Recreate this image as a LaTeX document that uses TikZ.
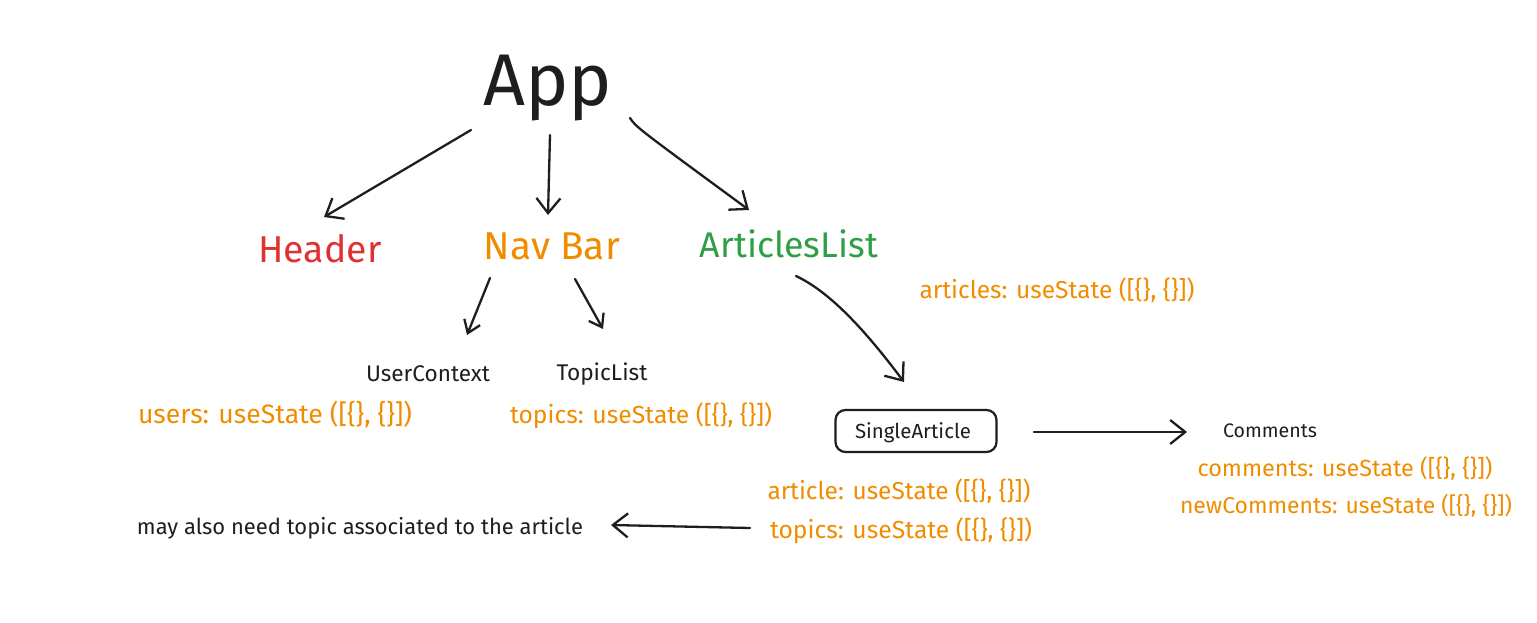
\documentclass[tikz,border=0pt]{standalone}
\usepackage{fontspec}
\setmainfont{Fira Sans}
\usetikzlibrary{arrows.meta}
\definecolor{ink}{HTML}{1E1E1E}
\definecolor{xred}{HTML}{E03131}
\definecolor{xorange}{HTML}{F08C00}
\definecolor{xgreen}{HTML}{2F9E44}
\newcommand\fitw[2]{\resizebox{#1pt}{!}{#2}}
\tikzset{
  lbl/.style={inner sep=0pt, outer sep=0pt, text=ink, font=\fontsize{20}{24}\selectfont},
  st/.style={lbl, text=xorange},
  conn/.style={draw=ink, line width=2.3pt, line cap=round, -{Straight Barb[length=15pt,width=24pt,line width=2.3pt]}},
  sconn/.style={conn, -{Straight Barb[length=12pt,width=17pt,line width=2.3pt]}},
  box/.style={draw=ink, line width=2.2pt, rounded corners=10pt, minimum width=161pt, minimum height=42pt, inner sep=0pt}
}
\begin{document}
\begin{tikzpicture}[x=1pt,y=-1pt]
\useasboundingbox (0,0) rectangle (1537,622);
% nodes
\node[lbl] (app) at (548,88) {\fitw{129}{App}};
\node[lbl, text=xred] (header) at (320,249) {\fitw{123}{Header}};
\node[lbl, text=xorange] (navbar) at (552,246) {\fitw{136}{Nav Bar}};
\node[lbl, text=xgreen] (alist) at (789,244) {\fitw{178}{ArticlesList}};
\node[st] (articles) at (1057,290) {\fitw{275}{articles: useState ([\{\}, \{\}])}};
\node[lbl] (userctx) at (428,374) {\fitw{124}{UserContext}};
\node[lbl] (topiclist) at (602,374) {\fitw{91}{TopicList}};
\node[st] (users) at (275,414) {\fitw{274}{users: useState ([\{\}, \{\}])}};
\node[st] (topicsA) at (641,416) {\fitw{262}{topics: useState ([\{\}, \{\}])}};
\node[box] (single) at (916,431) {};
\node[lbl] (singlet) at (913,433) {\fitw{116}{SingleArticle}};
\node[lbl] (comments) at (1270,431) {\fitw{94}{Comments}};
\node[st] (commentsS) at (1345,469) {\fitw{295}{comments: useState ([\{\}, \{\}])}};
\node[st] (newcomm) at (1346,506) {\fitw{332}{newComments: useState ([\{\}, \{\}])}};
\node[st] (articleS) at (899,491) {\fitw{263}{article: useState ([\{\}, \{\}])}};
\node[st] (topicsB) at (901,531) {\fitw{262}{topics: useState ([\{\}, \{\}])}};
\node[lbl] (note) at (360,528) {\fitw{446}{may also need topic associated to the article}};
% connector ends
\coordinate (appL) at (471,130);
\coordinate (appM) at (550,135);
\coordinate (appR) at (630,118);
\coordinate (hdrT) at (324,217);
\coordinate (navT) at (548,215);
\coordinate (alT) at (749,210);
\coordinate (navL) at (490,278);
\coordinate (navR) at (575,279);
\coordinate (ucT) at (467,335);
\coordinate (tlT) at (603,329);
\coordinate (alB) at (796,276);
\coordinate (saT) at (904,382);
\coordinate (saR) at (1034,432);
\coordinate (cmL) at (1187,432);
\coordinate (tbL) at (750,528);
\coordinate (noteR) at (611,525);
% connectors
\draw[conn] (appL) -- (hdrT);
\draw[conn] (appM) -- (navT);
\draw[conn] (appR) .. controls (636,127) .. (alT);
\draw[sconn] (navL) -- (ucT);
\draw[sconn] (navR) -- (tlT);
\draw[conn] (alB) .. controls (830,292) and (865,330) .. (saT);
\draw[conn] (saR) -- (cmL);
\draw[conn] (tbL) -- (noteR);
\end{tikzpicture}
\end{document}
